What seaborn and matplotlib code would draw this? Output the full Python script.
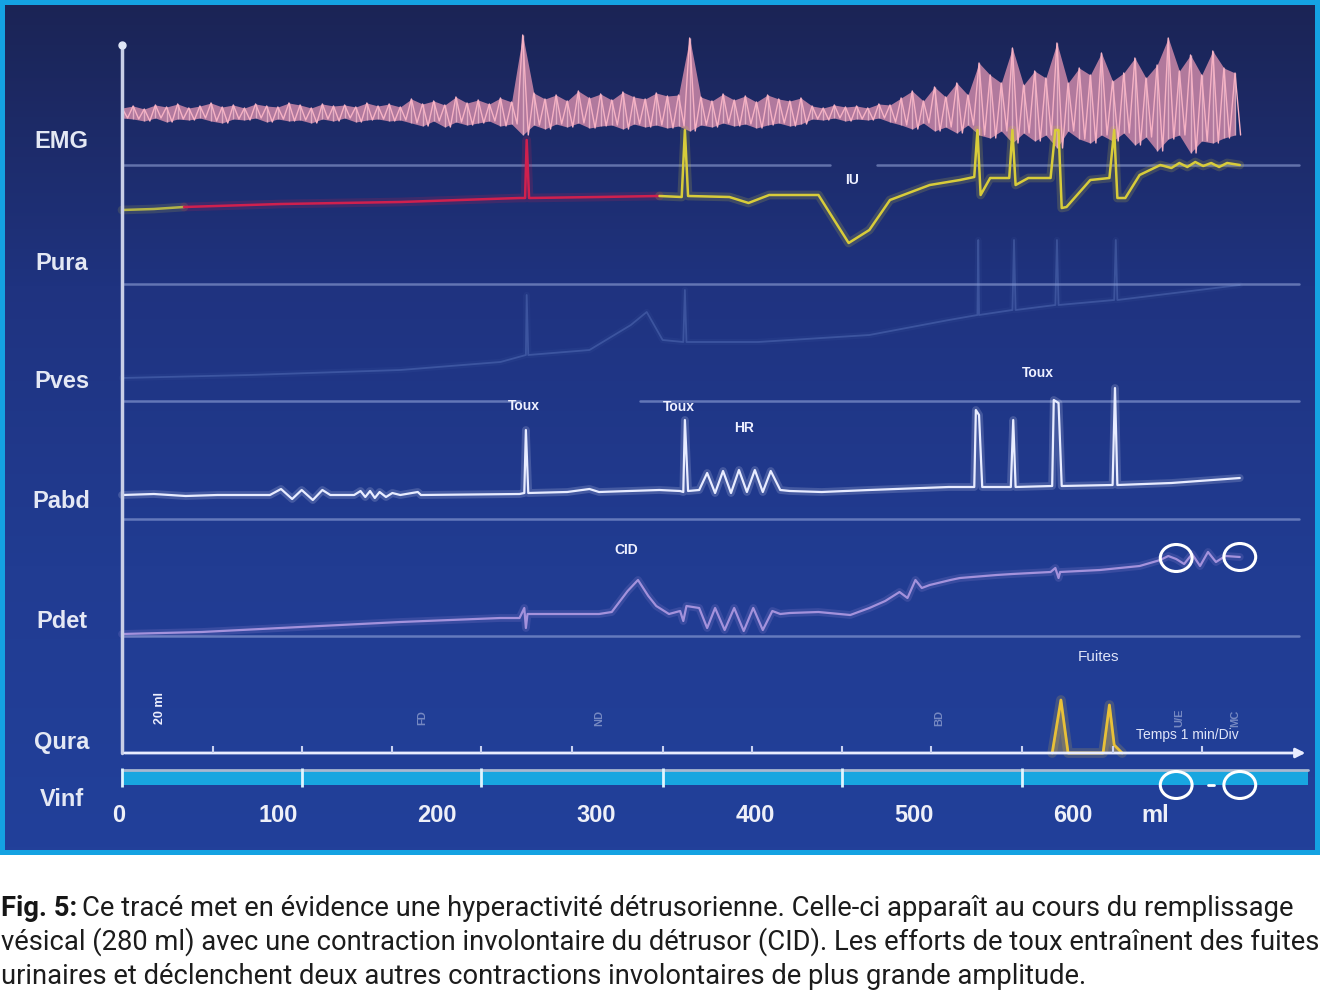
import numpy as np
import matplotlib
matplotlib.use("Agg")
import matplotlib.pyplot as plt
import seaborn as sns
from matplotlib.patches import Rectangle, Ellipse
from matplotlib.colors import LinearSegmentedColormap

sns.set_style("white")
plt.rcParams['font.family'] = ['Liberation Sans', 'DejaVu Sans']

# ---------------- data (x always in ml) ----------------
channels = ["EMG", "Pura", "Pves", "Pabd", "Pdet", "Qura", "Vinf"]
label_rows = [142, 263, 382, 502, 622, 742, 800]

# EMG envelope, one sample every 7 ml
emg_ml = np.arange(0, 701, 7)
emg_up = [5, 7, 4, 8, 6, 9, 5, 7, 10, 6, 8, 5, 9, 7, 6, 10, 8, 5, 9, 7, 8, 6, 10, 7, 9, 6,
          14, 9, 12, 8, 16, 10, 13, 9, 15, 11,
          78,
          20, 14, 18, 12, 22, 15, 19, 13, 21, 16, 14, 20, 17,
          18, 75,
          16, 12, 19, 13, 17, 11, 18, 14, 12, 15,
          7, 5, 8, 6, 7, 5, 9, 8,
          15, 22, 12, 26, 16, 30, 18, 50,
          38, 30, 65, 28, 42, 35, 70, 30, 45, 38, 60, 32, 40, 55, 35, 48, 75, 42, 58, 38, 62, 45, 40]
emg_lo = [5, 6, 8, 5, 9, 6, 7, 5, 8, 10, 6, 7, 5, 9, 6, 8, 7, 10, 6, 8, 5, 9, 7, 6, 8, 7,
          10, 13, 8, 14, 9, 12, 10, 8, 13, 11,
          22,
          12, 16, 11, 14, 10, 15, 13, 12, 16, 11, 14, 12, 15,
          13, 18,
          12, 14, 10, 13, 11, 15, 12, 10, 13, 11,
          6, 7, 5, 8, 6, 7, 5, 9,
          12, 16, 10, 18, 14, 20, 12, 22,
          25, 18, 30, 20, 28, 22, 35, 18, 26, 30, 22, 28, 20, 32, 24, 38, 26, 22, 40, 28, 30, 25, 22]

# Pura
pura_ml = [0, 20, 39, 100, 175, 250, 253.5, 254.5, 256, 300, 338,
           352, 354, 356, 382, 394, 407, 438, 457, 470, 483, 508, 527, 536, 538, 540,
           546, 558, 560, 562, 570, 584, 587, 589, 591, 594, 609, 621, 624, 626, 631,
           640, 653, 660, 665, 670, 675, 680, 685, 690, 695, 703]
pura_val = [0, 1, 3, 6, 8, 12, 12, 70, 12, 13, 14,
            13, 80, 14, 13, 7, 15, 15, -33, -20, 10, 25, 30, 33, 80, 15,
            32, 32, 80, 25, 32, 32, 80, 80, 2, 3, 30, 32, 80, 12, 12,
            35, 45, 42, 47, 43, 48, 44, 47, 43, 47, 45]
pura_breaks = [39, 338]

# Pves (faint)
pves_ml = [0, 80, 175, 238, 254, 254.5, 255.5, 294, 320, 330, 340, 353, 354, 355, 400,
           470, 520, 538, 538.5, 539, 560, 561, 562, 587, 588, 589, 624, 625, 626, 703]
pves_val = [2, 5, 10, 18, 25, 85, 25, 30, 55, 68, 40, 38, 90, 38, 38,
            45, 60, 65, 140, 65, 70, 140, 70, 75, 140, 75, 80, 140, 80, 95]

# Pabd
pabd_ml = [0, 20, 40, 60, 93, 100, 107, 113, 120, 126, 131, 146, 150, 153, 156, 159, 162,
           166, 170, 175, 186, 188, 250, 253, 254, 255.5, 280, 294, 300, 338, 351, 353, 354,
           356, 363, 368, 373, 378, 383, 388, 393, 398, 403, 408, 414, 420, 440, 470, 520,
           536, 537, 539, 541, 559, 560.5, 562, 585, 586, 589, 591, 623, 624.5, 626, 660, 703]
pabd_val = [0, 1, -1, 0, 0, 6, -4, 5, -5, 5, 0, 0, 4, -2, 4, -3, 3,
            -2, 2, 0, 3, 0, 1, 2, 65, 2, 3, 6, 3, 5, 4, 3, 75,
            4, 5, 22, 2, 24, 2, 25, 3, 25, 3, 24, 5, 4, 3, 5, 8,
            8, 85, 80, 8, 8, 75, 8, 9, 95, 92, 9, 10, 107, 10, 12, 17]

# Pdet
pdet_ml = [0, 50, 112, 175, 238, 250, 253, 254, 255, 300, 308, 318, 324.5, 331, 336, 344,
           351, 353, 355, 363, 368, 373, 379, 385, 391, 397, 403, 409, 414, 420, 438, 458,
           470, 480, 489, 494, 499, 503, 508, 521, 527, 550, 560, 584, 587, 589, 590, 615,
           640, 653, 658, 663, 668, 673, 678, 683, 688, 694, 703]
pdet_val = [2, 4, 9, 14, 18, 18, 28, 8, 22, 22, 24, 45, 56, 40, 30, 22,
            25, 15, 30, 28, 8, 28, 6, 28, 5, 28, 6, 25, 22, 23, 24, 21,
            28, 35, 44, 38, 56, 48, 51, 56, 58, 61, 62, 64, 68, 58, 64, 66,
            70, 76, 80, 77, 72, 82, 70, 84, 74, 80, 79]

# Qura (flow): two leak peaks
qura_ml = [585, 590.5, 595, 617, 621, 624, 629]
qura_val = [0, 53, 0, 0, 48, 8, 0]

time_ticks = [57, 113, 170, 226, 283, 340, 396, 453, 509, 566, 623, 679]
vinf_ticks = [113, 226, 340, 453, 566]
vol_ticks = [0, 100, 200, 300, 400, 500, 600]

# ---------------- layout ----------------
W, H = 1320, 990
base = {"EMG": 113, "Pura": 210, "Pves": 380, "Pabd": 495, "Pdet": 636, "Qura": 753}
sep_rows = [(165, 0, 445), (165, 475, 740), (284, 0, 740), (401, 0, 250), (401, 326, 740),
            (519, 0, 740), (636, 0, 740)]
x_min, x_max = -73.6, 750.3

fig = plt.figure(figsize=(13.2, 9.9), dpi=100)
fig.patch.set_facecolor("white")
fig.patches.append(Rectangle((0, 1 - 855 / H), 1, 855 / H, transform=fig.transFigure,
                             facecolor="#14a2e2", edgecolor="none", zorder=-5))
ax = fig.add_axes([5 / W, 1 - 850 / H, 1310 / W, 845 / H])
ax.set_zorder(1)
ax.set_axis_off()

bg = LinearSegmentedColormap.from_list("bg", ["#1b2455", "#1f3380", "#213c92", "#22409a"])
ax.imshow(np.linspace(0, 1, 256).reshape(-1, 1), cmap=bg, aspect="auto",
          extent=[x_min, x_max, 850, 5], zorder=0)


def trace(x, v, row, color, lw=1.6, alpha=1.0, glow=True):
    y = row - np.asarray(v, dtype=float)
    if glow:
        sns.lineplot(x=x, y=y, ax=ax, color=color, lw=lw * 3.5, alpha=0.18 * alpha,
                     sort=False, estimator=None, zorder=3)
    sns.lineplot(x=x, y=y, ax=ax, color=color, lw=lw, alpha=alpha,
                 sort=False, estimator=None, zorder=4)


# separator lines
for r, a, b in sep_rows:
    ax.plot([a, b], [r, r], color="#a8b8e8", lw=1.8, alpha=0.5, zorder=2)

# vertical axis
ax.plot([0, 0], [45, 753], color="#c8cee6", lw=2.5, zorder=5)
ax.plot([0], [45], "o", color="#e0e6f6", ms=5, zorder=5)

# EMG
emg_up = np.array(emg_up)
emg_lo = np.array(emg_lo)
ax.fill_between(emg_ml, base["EMG"] - emg_up, base["EMG"] + emg_lo,
                color="#e495b2", alpha=0.75, lw=0, zorder=3)
ax.vlines(emg_ml, base["EMG"] - emg_up, base["EMG"] + emg_lo, color="#f8c4d2",
          lw=1.0, alpha=0.7, zorder=4)
zx = np.ravel(np.column_stack([emg_ml, emg_ml + 3.5]))
zy = np.ravel(np.column_stack([base["EMG"] - emg_up, base["EMG"] + emg_lo]))
sns.lineplot(x=zx, y=zy, ax=ax, color="#f6b2c4", lw=1.0, sort=False, estimator=None, zorder=4)

# Pura in three colours
pm = np.array(pura_ml)
pv = np.array(pura_val)
segs = [(0, pura_breaks[0], "#b4b448"), (pura_breaks[0], pura_breaks[1], "#d0204e"),
        (pura_breaks[1], 703, "#d8cc3a")]
for a, b, c in segs:
    m = (pm >= a) & (pm <= b)
    trace(pm[m], pv[m], base["Pura"], c, lw=1.8)

# Pves faint
trace(pves_ml, pves_val, base["Pves"], "#7e9ce0", lw=1.3, alpha=0.28)
# Pabd
trace(pabd_ml, pabd_val, base["Pabd"], "#e8ecff", lw=1.6)
# Pdet
trace(pdet_ml, pdet_val, base["Pdet"], "#a492dc", lw=1.6)

# Qura axis + flow peaks
ax.annotate("", xy=(746, 753), xytext=(0, 753),
            arrowprops=dict(arrowstyle="-|>", color="#e8ecff", lw=2, mutation_scale=14), zorder=5)
ax.vlines(time_ticks, 746, 753, color="#c8d0f0", lw=1.5, zorder=5)
qy = base["Qura"] - np.array(qura_val)
ax.fill_between(qura_ml, qy, base["Qura"], color="#d8b040", alpha=0.35, zorder=4)
trace(qura_ml, qura_val, base["Qura"], "#e8c038", lw=2.0)

# Vinf bar
ax.fill_between([0, 746], 770, 785, color="#18a6e0", lw=0, zorder=3)
ax.plot([0, 746], [770, 770], color="#a8b8d0", lw=2, zorder=4)
ax.vlines([0] + vinf_ticks, 768, 787, color="#dff4ff", lw=2, zorder=5)

# circles
for cx, cy in [(663, 558), (703, 557), (663, 785), (703, 785)]:
    ax.add_patch(Ellipse((cx, cy), width=20, height=27, fill=False, ec="white", lw=2.2, zorder=6))
ax.plot([683, 687], [785, 785], color="white", lw=2, zorder=6)

# channel labels
for name, r in zip(channels, label_rows):
    ax.text(-38, r, name, color="#e4e8f4", fontsize=17, fontweight="bold",
            ha="center", va="center", zorder=6)

# volume tick labels
for v in vol_ticks:
    ax.text(v - 2, 815, str(v), color="#eef0f8", fontsize=17, fontweight="bold",
            ha="center", va="center", zorder=6)
ax.text(650, 815, "ml", color="#eef0f8", fontsize=17, fontweight="bold",
        ha="center", va="center", zorder=6)

# annotations
small = dict(color="#eef0ff", fontsize=10, fontweight="bold", ha="center", va="center", zorder=6)
ax.text(253, 406, "Toux", **small)
ax.text(350, 407, "Toux", **small)
ax.text(576, 373, "Toux", **small)
ax.text(391, 428, "HR", **small)
ax.text(459, 180, "IU", **small)
ax.text(317, 550, "CID", **small)
ax.text(614, 657, "Fuites", color="#dfe4f8", fontsize=11, ha="center", va="center", zorder=6)
ax.text(670, 735, "Temps 1 min/Div", color="#dfe4f8", fontsize=10, ha="center", va="center", zorder=6)
ax.text(24, 708, "20 ml", color="#eef0ff", fontsize=9, fontweight="bold", rotation=90,
        ha="center", va="center", zorder=6)
for xm, t in [(189, "FD"), (300, "ND"), (514, "BD"), (665, "U/E"), (700, "MC")]:
    ax.text(xm, 718, t, color="#dfe4f8", alpha=0.45, fontsize=8, fontweight="bold",
            rotation=90, ha="center", va="center", zorder=6)

ax.set_xlim(x_min, x_max)
ax.set_ylim(850, 5)

# ---------------- caption ----------------
cap_bold = "Fig. 5:"
cap_lines = ["Ce tracé met en évidence une hyperactivité détrusorienne. Celle-ci apparaît au cours du remplissage",
             "vésical (280 ml) avec une contraction involontaire du détrusor (CID). Les efforts de toux entraînent des fuites",
             "urinaires et déclenchent deux autres contractions involontaires de plus grande amplitude."]
cap_rows = [908, 942, 976]
cap_font = ['Roboto', 'DejaVu Sans']

renderer = fig.canvas.get_renderer()


def line_width(fs):
    tb = fig.text(0, 0, cap_bold, fontsize=fs, fontweight="bold", family=cap_font)
    wb = tb.get_window_extent(renderer).width
    widths = []
    for i, line in enumerate(cap_lines):
        t = fig.text(0, 0, line, fontsize=fs, family=cap_font)
        widths.append(t.get_window_extent(renderer).width + (wb + 6 if i == 0 else 0))
        t.remove()
    tb.remove()
    return max(widths)


fs = 18
for _ in range(2):
    fs = fs * 1314 / line_width(fs)

tb = fig.text(1 / W, 1 - cap_rows[0] / H, cap_bold, fontsize=fs, fontweight="bold",
              color="#161616", va="center", family=cap_font)
wb = tb.get_window_extent(renderer).width
fig.text((wb + 6) / W, 1 - cap_rows[0] / H, cap_lines[0], fontsize=fs, color="#1c1c1c",
         va="center", family=cap_font)
for line, r in zip(cap_lines[1:], cap_rows[1:]):
    fig.text(1 / W, 1 - r / H, line, fontsize=fs, color="#1c1c1c", va="center", family=cap_font)

fig.savefig("out.png", dpi=100)
